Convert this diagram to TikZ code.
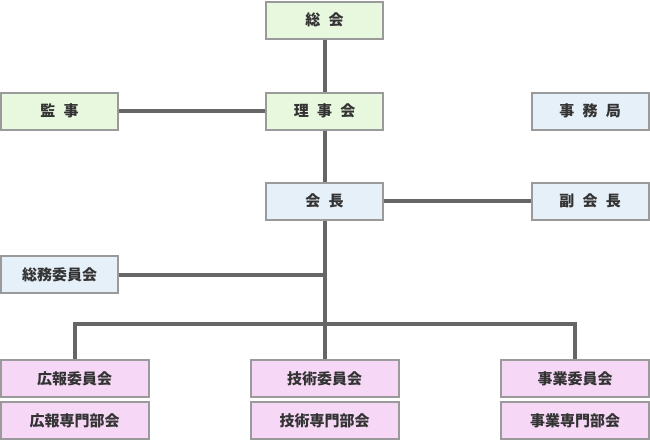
\documentclass[tikz,border=0pt]{standalone}
\usepackage{fontspec}
\newfontfamily\jp{Noto Sans CJK JP}
\definecolor{boxline}{HTML}{9A9A9A}
\definecolor{conn}{HTML}{666666}
\definecolor{txt}{HTML}{333333}
\definecolor{gfill}{HTML}{E8F8DE}
\definecolor{bfill}{HTML}{E6F0F8}
\definecolor{pfill}{HTML}{F6D8F6}
\newcommand\gp{\hspace{0.55em}}
\tikzset{
  orgbox/.style={draw=boxline, line width=2pt, inner sep=0pt, minimum width=117pt, minimum height=37pt,
    font=\jp\bfseries\fontsize{15}{17}\selectfont, text=txt},
  green/.style={orgbox, fill=gfill},
  blue/.style={orgbox, fill=bfill},
  pink/.style={orgbox, fill=pfill, minimum width=148pt},
  link/.style={draw=conn, line width=4pt}
}
\begin{document}
\begin{tikzpicture}[x=1pt,y=-1pt]
\useasboundingbox (0,0) rectangle (650,440);
\node[green] (sokai) at (324.5,20) {総\gp 会};
\node[green] (riji) at (324.5,111) {理\gp 事\gp 会};
\node[green] (kanji) at (59.5,111) {監\gp 事};
\node[blue] (jimu) at (590,111) {事\gp 務\gp 局};
\node[blue] (kaicho) at (324.5,201) {会\gp 長};
\node[blue] (fuku) at (590,201) {副\gp 会\gp 長};
\node[blue] (somu) at (59.5,274.5) {総務委員会};
\node[pink] (koho) at (74.5,378.5) {広報委員会};
\node[pink] (kohos) at (74.5,420.5) {広報専門部会};
\node[pink] (giju) at (324.5,378.5) {技術委員会};
\node[pink] (gijus) at (324.5,420.5) {技術専門部会};
\node[pink] (jigyo) at (575,378.5) {事業委員会};
\node[pink] (jigyos) at (575,420.5) {事業専門部会};
\coordinate (bus) at (324.5,324);
\draw[link] (sokai.south) -- (riji.north);
\draw[link] (kanji.east) -- (riji.west);
\draw[link] (riji.south) -- (kaicho.north);
\draw[link] (kaicho.east) -- (fuku.west);
\draw[link] (kaicho.south) -- (giju.north);
\draw[link] (somu.east) -- (somu.east -| kaicho.south);
\draw[link] (koho.north) |- (bus) -| (jigyo.north);
\end{tikzpicture}
\end{document}
